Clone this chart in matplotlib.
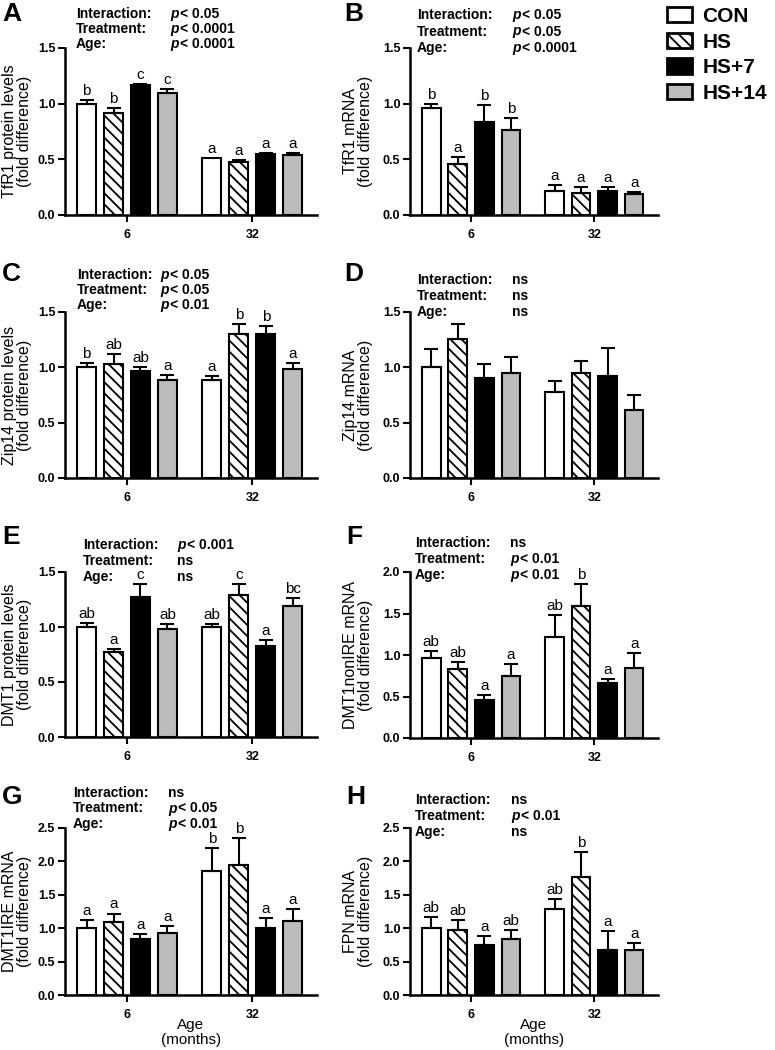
import matplotlib
matplotlib.use("Agg")
import matplotlib.pyplot as plt
from matplotlib.patches import Patch

plt.rcParams['font.family'] = ['Liberation Sans', 'DejaVu Sans']
plt.rcParams['hatch.linewidth'] = 1.3

W, H = 775, 1050

groups = ['CON', 'HS', 'HS+7', 'HS+14']
ages = ['6', '32']
colors = ['white', 'white', 'black', '#bcbcbc']
hatches = [None, '\\\\\\', None, None]

# values: first 4 = 6 months, last 4 = 32 months
a_mean = [1.00, 0.915, 1.17, 1.10, 0.51, 0.475, 0.545, 0.535]
a_err = [0.035, 0.045, 0.01, 0.03, 0.0, 0.02, 0.012, 0.02]
a_let = ['b', 'b', 'c', 'c', 'a', 'a', 'a', 'a']

b_mean = [0.96, 0.455, 0.837, 0.76, 0.22, 0.20, 0.213, 0.19]
b_err = [0.04, 0.065, 0.15, 0.113, 0.05, 0.05, 0.042, 0.02]
b_let = ['b', 'a', 'b', 'b', 'a', 'a', 'a', 'a']

c_mean = [1.00, 1.03, 0.97, 0.885, 0.885, 1.305, 1.30, 0.987]
c_err = [0.04, 0.09, 0.035, 0.045, 0.04, 0.09, 0.075, 0.053]
c_let = ['b', 'ab', 'ab', 'a', 'a', 'b', 'b', 'a']

d_mean = [1.00, 1.257, 0.90, 0.945, 0.78, 0.945, 0.924, 0.612]
d_err = [0.167, 0.138, 0.126, 0.15, 0.10, 0.115, 0.249, 0.135]

e_mean = [1.00, 0.77, 1.275, 0.98, 1.00, 1.29, 0.83, 1.19]
e_err = [0.04, 0.033, 0.117, 0.045, 0.03, 0.10, 0.052, 0.077]
e_let = ['ab', 'a', 'c', 'ab', 'ab', 'c', 'a', 'bc']

f_mean = [0.968, 0.827, 0.454, 0.743, 1.213, 1.59, 0.667, 0.843]
f_err = [0.08, 0.089, 0.06, 0.153, 0.265, 0.265, 0.048, 0.185]
f_let = ['ab', 'ab', 'a', 'a', 'ab', 'b', 'a', 'a']

g_mean = [1.00, 1.09, 0.837, 0.93, 1.85, 1.94, 1.00, 1.11]
g_err = [0.13, 0.13, 0.07, 0.10, 0.35, 0.41, 0.155, 0.17]
g_let = ['a', 'a', 'a', 'a', 'b', 'b', 'a', 'a']

h_mean = [1.00, 0.976, 0.747, 0.842, 1.28, 1.77, 0.677, 0.672]
h_err = [0.165, 0.149, 0.129, 0.138, 0.16, 0.37, 0.283, 0.105]
h_let = ['ab', 'ab', 'a', 'ab', 'ab', 'b', 'a', 'a']

stat_names = ['Interaction:', 'Treatment:', 'Age:']
a_stats = ['p< 0.05', 'p< 0.0001', 'p< 0.0001']
b_stats = ['p< 0.05', 'p< 0.05', 'p< 0.0001']
c_stats = ['p< 0.05', 'p< 0.05', 'p< 0.01']
d_stats = ['ns', 'ns', 'ns']
e_stats = ['p< 0.001', 'ns', 'ns']
f_stats = ['ns', 'p< 0.01', 'p< 0.01']
g_stats = ['ns', 'p< 0.05', 'p< 0.01']
h_stats = ['ns', 'p< 0.01', 'ns']

ylabels = ['TfR1 protein levels', 'TfR1 mRNA', 'Zip14 protein levels', 'Zip14 mRNA',
           'DMT1 protein levels', 'DMT1nonIRE mRNA', 'DMT1IRE mRNA', 'FPN mRNA']
ymaxes = [1.5, 1.5, 1.5, 1.5, 1.5, 2.0, 2.5, 2.5]

# layout in pixels: axes box (left, top, right, bottom), letter pos, stats (x label, x value, y, dy)
boxes = [(65, 48, 317, 215), (410, 48, 658, 215),
         (65, 312, 317, 478), (410, 312, 658, 478),
         (65, 572, 317, 737), (410, 572, 658, 738),
         (65, 828, 317, 995), (410, 828, 658, 995)]
letter_pos = [(2, 14), (344, 14), (2, 274), (344, 274),
              (2, 537), (346, 537), (2, 797), (346, 797)]
stat_pos = [(76, 170, 14, 15), (417, 512, 15, 16.5),
            (77, 160, 275, 15), (417, 512, 280, 16),
            (83, 177, 545, 16), (415, 510, 543, 16),
            (73, 168, 793, 15.5), (415, 511, 800, 16)]
ylabel_right = [32, 373]  # right edge of rotated y label, per column

panels = [
    ('A', a_mean, a_err, a_let, a_stats),
    ('B', b_mean, b_err, b_let, b_stats),
    ('C', c_mean, c_err, c_let, c_stats),
    ('D', d_mean, d_err, None, d_stats),
    ('E', e_mean, e_err, e_let, e_stats),
    ('F', f_mean, f_err, f_let, f_stats),
    ('G', g_mean, g_err, g_let, g_stats),
    ('H', h_mean, h_err, h_let, h_stats),
]

gap = 4.65
xpos = [0, 1, 2, 3, gap, gap + 1, gap + 2, gap + 3]

fig = plt.figure(figsize=(W / 100, H / 100), dpi=100)

for i, (lab, mean, err, lets, stats) in enumerate(panels):
    l, t, r, b = boxes[i]
    ax = fig.add_axes([l / W, 1 - b / H, (r - l) / W, (b - t) / H])
    ymax = ymaxes[i]
    for j in range(8):
        k = j % 4
        ax.bar(xpos[j], mean[j], width=0.7, color=colors[k], edgecolor='black',
               linewidth=1.5, hatch=hatches[k], zorder=2)
        if err[j] > 0:
            ax.errorbar(xpos[j], mean[j], yerr=[[0], [err[j]]], fmt='none',
                        ecolor='black', elinewidth=1.5, capsize=5, capthick=1.5, zorder=3)
        if lets is not None:
            ax.text(xpos[j], mean[j] + err[j] + ymax * 0.012, lets[j], ha='center',
                    va='bottom', fontsize=11)
    ax.set_xlim(-0.8, 8.55)
    ax.set_ylim(0, ymax)
    nt = int(ymax / 0.5) + 1
    ax.set_yticks([v * 0.5 for v in range(nt)])
    ax.set_yticklabels(['%.1f' % (v * 0.5) for v in range(nt)],
                       fontweight='bold', fontsize=9)
    ax.set_xticks([1.5, gap + 1.5])
    ax.set_xticklabels(ages, fontweight='bold', fontsize=9)
    for s in ['top', 'right']:
        ax.spines[s].set_visible(False)
    for s in ['left', 'bottom']:
        ax.spines[s].set_linewidth(1.8)
    ax.tick_params(direction='out', length=5, width=1.5, pad=2)
    ax.tick_params(axis='x', pad=5)
    ax.set_ylabel(ylabels[i] + '\n(fold difference)', fontsize=11.5, linespacing=1.0)
    ax.yaxis.set_label_coords((ylabel_right[i % 2] - l) / (r - l), 0.5)
    if i >= 6:
        ax.set_xlabel('Age\n(months)', fontsize=11, linespacing=1.05)
        ax.xaxis.set_label_coords(0.5, -(1018 - b) / (b - t))

    fig.text(letter_pos[i][0] / W, 1 - letter_pos[i][1] / H, lab, fontsize=19,
             fontweight='bold', va='center', ha='left')
    xl, xv, y0, dy = stat_pos[i]
    for n in range(3):
        yy = 1 - (y0 + n * dy) / H
        fig.text(xl / W, yy, stat_names[n], fontsize=10, fontweight='bold', va='center')
        s = stats[n]
        if s.startswith('p'):
            fig.text(xv / W, yy, 'p', fontsize=10, fontweight='bold', style='italic',
                     va='center')
            fig.text((xv + 10) / W, yy, s[1:].strip(), fontsize=10,
                     fontweight='bold', va='center')
        else:
            fig.text(xv / W, yy, s, fontsize=10, fontweight='bold', va='center')

handles = [Patch(facecolor=colors[k], edgecolor='black', linewidth=2, hatch=hatches[k],
                 label=groups[k]) for k in range(4)]
fig.legend(handles=handles, loc='upper left', bbox_to_anchor=(667 / W, 1 - 7 / H),
           frameon=False, prop={'size': 15, 'weight': 'bold'}, handlelength=1.2,
           handleheight=0.75, labelspacing=0.32, handletextpad=0.5,
           borderpad=0, borderaxespad=0)

fig.savefig('out.png', dpi=100)
